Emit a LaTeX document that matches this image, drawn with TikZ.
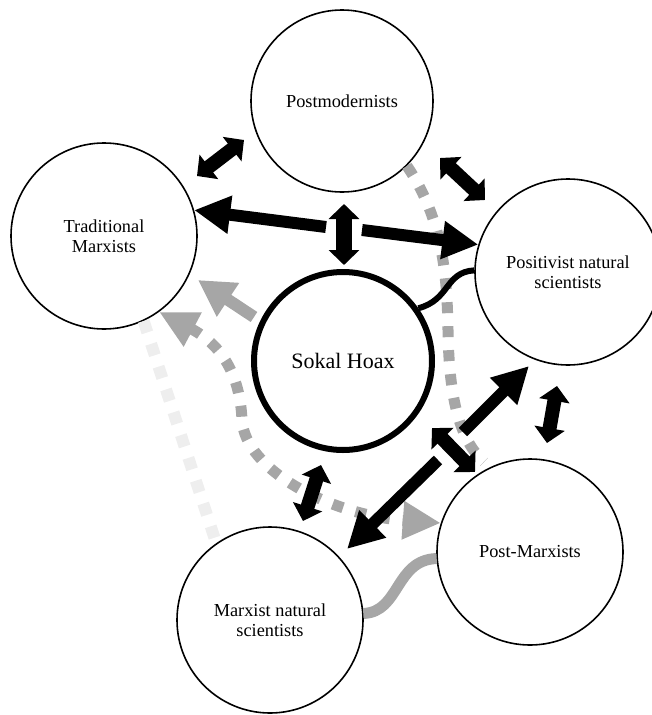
\documentclass[tikz,border=0pt]{standalone}
\usepackage{fontspec}
\setmainfont{Liberation Serif}
\usepackage{xcolor}
\usetikzlibrary{arrows.meta}
\definecolor{grayline}{HTML}{A6A6A6}
\definecolor{lightline}{HTML}{EEEEEE}

\begin{document}
\begin{tikzpicture}[x=1pt,y=-1pt,
        group/.style={circle,draw,line width=1.6pt,minimum size=186pt,inner sep=0pt,
            align=center,font=\fontsize{18.3}{20}\selectfont},
        bigarrow/.style={line width=12pt,-{Triangle[length=36pt,width=36pt]}},
        twoway/.style={line width=14pt,{Triangle[length=15pt,width=30pt]}-{Triangle[length=15pt,width=30pt]}},
        grayarrow/.style={grayline,line width=12pt,-{Triangle[length=36pt,width=38pt]}},
        dotline/.style={line width=11pt,dash pattern=on 11pt off 13pt}]
            \useasboundingbox (0,0) rectangle (652,715);

            \node[group,minimum size=182pt] (pm) at (342,101) {Postmodernists};
            \node[group] (trad) at (104,236) {Traditional\\Marxists};
            \node[group] (pos) at (568,272) {Positivist natural\\scientists};
            \node[group] (post) at (530,552) {Post-Marxists};
            \node[group] (mns) at (270,620) {Marxist natural\\scientists};
            \node[group,line width=6pt,minimum size=178pt,font=\fontsize{22}{24}\selectfont] (sokal) at (343,361) {Sokal Hoax};

            \coordinate (tmpm1) at (197,176);
            \coordinate (tmpm2) at (244,140);
            \coordinate (pmps1) at (440,158);
            \coordinate (pmps2) at (485,200);
            \coordinate (pmsk1) at (344,204);
            \coordinate (pmsk2) at (344,265);
            \coordinate (hubleft) at (326,227);
            \coordinate (hubright) at (362,230);
            \coordinate (skmn1) at (321,465);
            \coordinate (skmn2) at (303,521);
            \coordinate (pspm1) at (557,386);
            \coordinate (pspm2) at (547,443);
            \coordinate (crossup) at (463,432);
            \coordinate (crossdown) at (438,460);
            \coordinate (skpm1) at (432,428);
            \coordinate (skpm2) at (475,472);
            \coordinate (posdown) at (529,366);
            \coordinate (mnsup) at (347,549);
            \coordinate (grayfrom) at (254,317);
            \coordinate (grayto) at (198,280);
            \coordinate (dotend) at (484,462);

            \draw[lightline,dotline,line width=12pt,dash pattern=on 12pt off 12pt] (trad.-65) -- (mns.125);
            \draw[grayarrow] (grayfrom) -- (grayto);
            \draw[grayline,dotline,{Triangle[length=38pt,width=36pt]}-{Triangle[length=38pt,width=36pt]}] (trad.-54) .. controls (222,345) and (240,375) .. (242,420) .. controls (245,470) and (330,515) .. (post.162);
            \draw[grayline,dotline] (pm.-45) .. controls (440,215) and (447,265) .. (448,330) .. controls (449,400) and (460,440) .. (dotend);
            \draw[grayline,line width=11pt] (mns.4) .. controls (400,612) and (395,560) .. (post.184);
            \draw[line width=6pt] (sokal.35) .. controls (450,300) and (445,272) .. (pos.179);

            \draw[twoway] (tmpm1) -- (tmpm2);
            \draw[twoway] (pmps1) -- (pmps2);
            \draw[twoway,line width=16pt] (pmsk1) -- (pmsk2);
            \draw[bigarrow] (hubleft) -- (trad.16);
            \draw[bigarrow] (hubright) -- (pos.163);
            \draw[twoway] (skmn1) -- (skmn2);
            \draw[twoway] (pspm1) -- (pspm2);
            \draw[bigarrow] (crossup) -- (posdown);
            \draw[bigarrow] (crossdown) -- (mnsup);
            \draw[twoway] (skpm1) -- (skpm2);
        \end{tikzpicture}
\end{document}
